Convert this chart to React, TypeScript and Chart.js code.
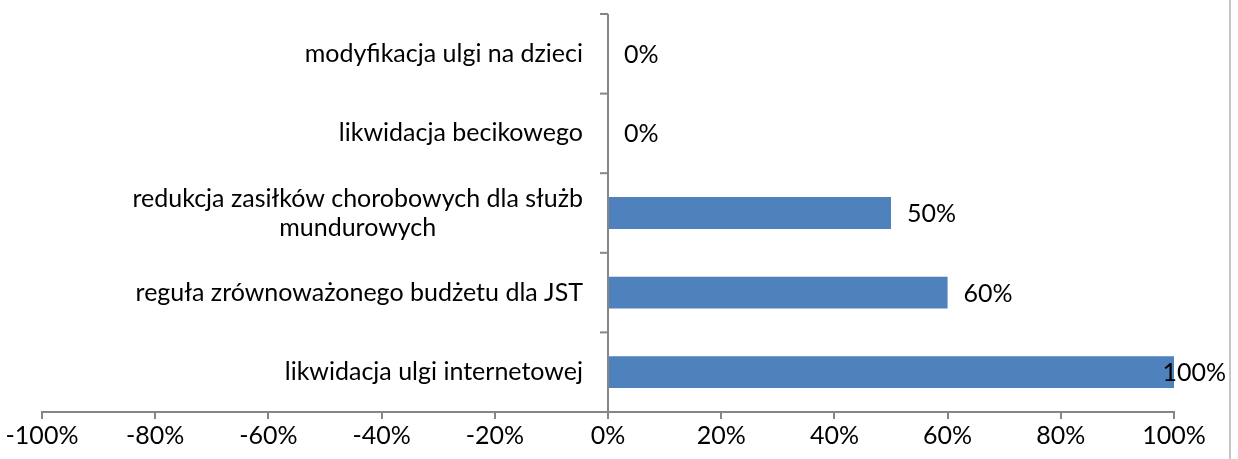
import React, { useEffect, useRef } from "react";
import { Chart, registerables } from "chart.js";

Chart.register(...registerables);

const categories: (string | string[])[] = [
  "modyfikacja ulgi na dzieci",
  "likwidacja becikowego",
  ["redukcja zasiłków chorobowych dla służb", "mundurowych"],
  "reguła zrównoważonego budżetu dla JST",
  "likwidacja ulgi internetowej",
];
const values: number[] = [0, 0, 50, 60, 100];
const xMin = -100;
const xMax = 100;
const xStep = 20;

const FONT_FAMILY = "Lato, 'Noto Sans', sans-serif";
const FONT_SIZE = 25;
const AXIS_COLOR = "#868686";
const BAR_COLOR = "#4f81bd";

const overlay = {
  id: "overlay",
  afterDatasetsDraw(chart: any) {
    const ctx = chart.ctx;
    const xs = chart.scales.x;
    const ys = chart.scales.y;
    const area = chart.chartArea;
    const x0 = xs.getPixelForValue(0);
    const n = categories.length;
    ctx.save();
    // y axis line at zero
    ctx.strokeStyle = AXIS_COLOR;
    ctx.lineWidth = 2;
    ctx.beginPath();
    ctx.moveTo(x0, area.top);
    ctx.lineTo(x0, area.bottom);
    ctx.stroke();
    // category boundary ticks
    for (let i = 0; i <= n; i++) {
      const y = area.top + (i * (area.bottom - area.top)) / n;
      ctx.beginPath();
      ctx.moveTo(x0 - 8, y);
      ctx.lineTo(x0, y);
      ctx.stroke();
    }
    // category labels
    ctx.fillStyle = "#000";
    ctx.font = `${FONT_SIZE}px ${FONT_FAMILY}`;
    ctx.textBaseline = "middle";
    const right = x0 - 25;
    const lineH = 29;
    categories.forEach((lab, i) => {
      const yc = ys.getPixelForValue(i);
      const lines = Array.isArray(lab) ? lab : [lab];
      const maxW = Math.max(...lines.map((l) => ctx.measureText(l).width));
      ctx.textAlign = "center";
      const cx = right - maxW / 2;
      lines.forEach((l, j) => {
        const y = yc + (j - (lines.length - 1) / 2) * lineH;
        ctx.fillText(l, cx, y);
      });
    });
    // value labels
    ctx.textAlign = "left";
    values.forEach((v, i) => {
      const txt = `${v}%`;
      const w = ctx.measureText(txt).width;
      let x = xs.getPixelForValue(v) + 16;
      const limit = chart.width - 12 - w;
      if (x > limit) x = limit;
      ctx.fillText(txt, x, ys.getPixelForValue(i) + 1);
    });
    // right frame border
    ctx.strokeStyle = "#c6c6c6";
    ctx.lineWidth = 2;
    ctx.beginPath();
    ctx.moveTo(chart.width - 8, 0);
    ctx.lineTo(chart.width - 8, chart.height);
    ctx.stroke();
    ctx.restore();
  },
};

export default function App() {
  const ref = useRef<HTMLCanvasElement | null>(null);
  useEffect(() => {
    document.body.style.margin = "0";
    if (!ref.current) return;
    const chart = new Chart(ref.current, {
      type: "bar",
      data: {
        labels: categories.map((c) => (Array.isArray(c) ? c.join(" ") : c)),
        datasets: [
          {
            data: values,
            backgroundColor: BAR_COLOR,
            barPercentage: 0.4,
            categoryPercentage: 1,
          },
        ],
      },
      options: {
        indexAxis: "y",
        animation: false,
        responsive: false,
        maintainAspectRatio: false,
        layout: { padding: { left: 42, right: 64, top: 14, bottom: 0 } },
        plugins: { legend: { display: false }, tooltip: { enabled: false } },
        scales: {
          y: { display: false },
          x: {
            min: xMin,
            max: xMax,
            afterFit: (s: any) => {
              s.height = 47;
            },
            ticks: {
              stepSize: xStep,
              callback: (v: any) => `${v}%`,
              color: "#000",
              font: { family: FONT_FAMILY, size: FONT_SIZE },
              padding: 2,
              maxRotation: 0,
              autoSkip: false,
            },
            grid: {
              drawOnChartArea: false,
              drawTicks: true,
              tickLength: 7,
              color: AXIS_COLOR,
              lineWidth: 2,
            },
            border: { display: true, color: AXIS_COLOR, width: 2 },
          },
        },
      },
      plugins: [overlay],
    });
    return () => chart.destroy();
  }, []);
  return <canvas ref={ref} width={1238} height={459} style={{ display: "block" }} />;
}
